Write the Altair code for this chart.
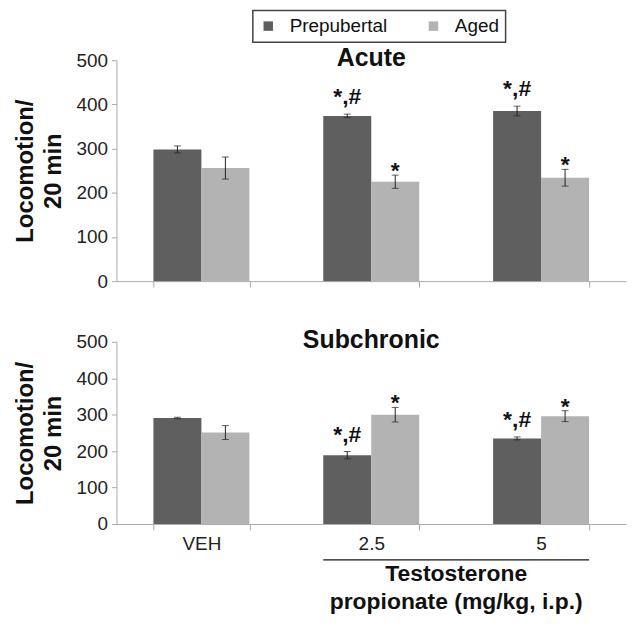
import altair as alt
import pandas as pd

categories = ["VEH", "2.5", "5"]
series = ["Prepubertal", "Aged"]
colors = ["#5f5f5f", "#b3b3b3"]

acute_prep = [298, 374, 385]
acute_prep_err = [8, 4, 11]
acute_aged = [256, 225, 234]
acute_aged_err = [25, 15, 19]
acute_sig_prep = ["", "*,#", "*,#"]
acute_sig_aged = ["", "*", "*"]

sub_prep = [291, 189, 235]
sub_prep_err = [2, 10, 4]
sub_aged = [251, 300, 296]
sub_aged_err = [19, 20, 15]
sub_sig_prep = ["", "*,#", "*,#"]
sub_sig_aged = ["", "*", "*"]

y_title = ["Locomotion/", "20 min"]
x_note = ["Testosterone", "propionate (mg/kg, i.p.)"]

W = 512
H_TOP = 222
H_BOT = 183
P_IN = 0.435
P_OUT = 0.2175
FONT = "Liberation Sans"


def frame(prep, prep_err, aged, aged_err, sig_p, sig_a):
    rows = []
    for i, c in enumerate(categories):
        rows.append(dict(cat=c, series=series[0], value=prep[i], lo=prep[i] - prep_err[i],
                         hi=prep[i] + prep_err[i], sig=sig_p[i]))
        rows.append(dict(cat=c, series=series[1], value=aged[i], lo=aged[i] - aged_err[i],
                         hi=aged[i] + aged_err[i], sig=sig_a[i]))
    return pd.DataFrame(rows)


xscale = alt.Scale(domain=categories, paddingInner=P_IN, paddingOuter=P_OUT)
yscale = alt.Scale(domain=[0, 500], nice=False)


def panel(df, title, height, show_labels):
    xaxis = alt.Axis(
        title=None, labels=show_labels, tickBand="extent", ticks=True, tickSize=6,
        tickColor="#aaaaaa", domainColor="#aaaaaa", labelFontSize=19, labelColor="#222222",
        labelPadding=5, labelAngle=0, grid=False,
    )
    yaxis = alt.Axis(
        title=y_title, values=[0, 100, 200, 300, 400, 500], grid=False, tickSize=5,
        tickColor="#aaaaaa", domainColor="#aaaaaa", labelFontSize=19, labelColor="#222222",
        labelPadding=4, titleFontSize=24, titleFontWeight="bold", titleColor="#111111",
        titlePadding=11, titleLineHeight=28,
    )
    x = alt.X("cat:N", sort=categories, scale=xscale, axis=xaxis)
    xo = alt.XOffset("series:N", sort=series, scale=alt.Scale(domain=series))
    base = alt.Chart(df)
    bars = base.mark_bar().encode(
        x=x, xOffset=xo,
        y=alt.Y("value:Q", scale=yscale, axis=yaxis),
        color=alt.Color("series:N", sort=series,
                        scale=alt.Scale(domain=series, range=colors),
                        legend=alt.Legend(title=None)),
    )
    rules = base.mark_rule(color="#222222", strokeWidth=1).encode(
        x=x, xOffset=xo, y=alt.Y("lo:Q", scale=yscale, axis=yaxis), y2="hi:Q")
    cap_lo = base.mark_tick(color="#222222", thickness=1, size=7, orient="horizontal").encode(
        x=x, xOffset=xo, y=alt.Y("lo:Q", scale=yscale, axis=yaxis))
    cap_hi = base.mark_tick(color="#222222", thickness=1, size=7, orient="horizontal").encode(
        x=x, xOffset=xo, y=alt.Y("hi:Q", scale=yscale, axis=yaxis))
    sig_star = base.transform_filter(alt.datum.sig == "*").mark_text(
        fontSize=23, fontWeight="bold", baseline="alphabetic", dy=3, color="#111111").encode(
        x=x, xOffset=xo, y=alt.Y("hi:Q", scale=yscale, axis=yaxis), text="sig:N")
    sig_hash = base.transform_filter(alt.datum.sig == "*,#").mark_text(
        fontSize=23, fontWeight="bold", baseline="alphabetic", dy=-10, color="#111111").encode(
        x=x, xOffset=xo, y=alt.Y("hi:Q", scale=yscale, axis=yaxis), text="sig:N")
    ttl = alt.Chart(pd.DataFrame({"t": [title]})).mark_text(
        fontSize=25, fontWeight="bold", baseline="middle", align="center", color="#111111"
    ).encode(x=alt.value(W / 2), y=alt.value(-2), text="t:N")
    layers = [bars, rules, cap_lo, cap_hi, sig_star, sig_hash, ttl]
    if show_labels:
        step = W / (len(categories) - P_IN + 2 * P_OUT)
        b1_start = step * P_OUT + step
        b2_end = step * P_OUT + 2 * step + step * (1 - P_IN)
        mid = (b1_start + step * (1 - P_IN) + step * P_OUT + 2 * step) / 2
        note_line = alt.Chart(pd.DataFrame({"a": [0]})).mark_rule(
            color="#111111", strokeWidth=1.2).encode(
            x=alt.value(b1_start), x2=alt.value(b2_end), y=alt.value(37 + height - 1))
        note = alt.Chart(pd.DataFrame({"a": [0]})).mark_text(
            fontSize=23, fontWeight="bold", baseline="top", align="center",
            lineHeight=28, color="#111111").encode(
            x=alt.value(mid), y=alt.value(height + 39), text=alt.value(x_note))
        layers += [note_line, note]
    return alt.layer(*layers).properties(width=W, height=height)


top = panel(frame(acute_prep, acute_prep_err, acute_aged, acute_aged_err,
                  acute_sig_prep, acute_sig_aged), "Acute", H_TOP, False)
bottom = panel(frame(sub_prep, sub_prep_err, sub_aged, sub_aged_err,
                     sub_sig_prep, sub_sig_aged), "Subchronic", H_BOT, True)

chart = alt.vconcat(top, bottom, spacing=61, bounds="flush").properties(
    padding={"left": 5, "top": 0, "right": 4, "bottom": 0}
).configure(font=FONT).configure_view(stroke=None).configure_legend(
    orient="none", legendX=137, legendY=-50, direction="horizontal",
    symbolType="square", symbolSize=90, symbolStrokeWidth=0, labelFontSize=19,
    labelColor="#111111", labelOffset=12, columnPadding=36, padding=6,
    strokeColor="#444444", strokeWidth=1.5, fillColor="white",
)

chart.save("out.html", embed_options={"renderer": "svg", "actions": False})
